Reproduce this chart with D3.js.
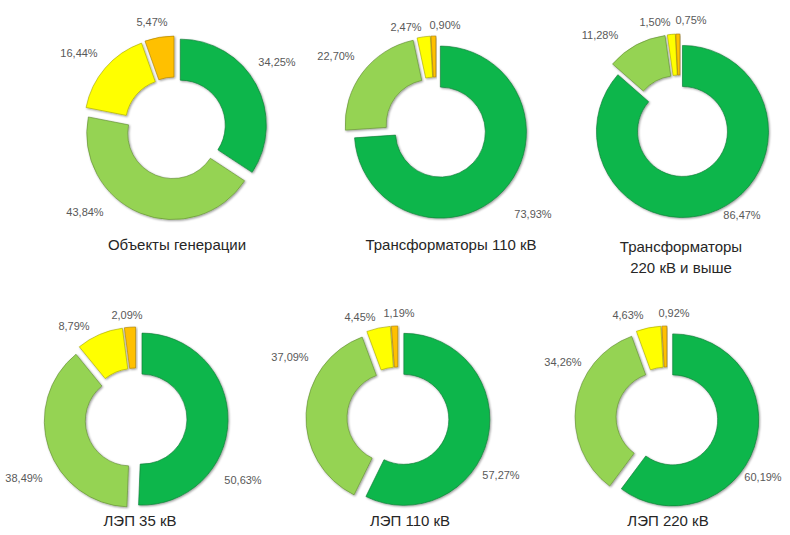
<!DOCTYPE html>
<html><head><meta charset="utf-8">
<script src="https://cdn.jsdelivr.net/npm/d3@7"></script>
<style>
html,body{margin:0;padding:0;background:#fff;}
svg{display:block;font-family:"Liberation Sans",Arial,sans-serif;}
</style></head>
<body>
<svg id="chart" width="790" height="535"></svg>
<script>
// ---- data ----
const titles = ["Объекты генерации", "Трансформаторы 110 кВ", "Трансформаторы|220 кВ и выше", "ЛЭП 35 кВ", "ЛЭП 110 кВ", "ЛЭП 220 кВ"];
const seriesColors = ["#0CB64B", "#95D352", "#FFFF00", "#FFC000"];
const genValues   = [34.25, 43.84, 16.44, 5.47];
const tr110Values = [73.93, 22.70, 2.47, 0.90];
const tr220Values = [86.47, 11.28, 1.50, 0.75];
const l35Values   = [50.63, 38.49, 8.79, 2.09];
const l110Values  = [57.27, 37.09, 4.45, 1.19];
const l220Values  = [60.19, 34.26, 4.63, 0.92];
const allValues = [genValues, tr110Values, tr220Values, l35Values, l110Values, l220Values];

// ---- layout ----
const centers = [[175,128],[436,128],[680,126],[136,419],[398,418],[667,418]];
const titlePos = [[177,245],[451,245],[681,247],[140,521],[410,521],[668,521]];
const labelOffsets = [
  [[102,-66],[-90,84],[-96,-75],[-23,-106]],
  [[97,86],[-100,-72],[-30,-101],[9,-103]],
  [[62,89],[-80,-91],[-25,-104],[11,-106]],
  [[107,61],[-112,59],[-62,-93],[-9,-104]],
  [[103,57],[-108,-61],[-38,-101],[1,-105]],
  [[96,59],[-104,-56],[-39,-103],[7,-105]]
];
const outerR = 86, innerR = 45, explode = 6;

const svg = d3.select("#chart");
const defs = svg.append("defs");
const f = defs.append("filter").attr("id","sh").attr("x","-20%").attr("y","-20%").attr("width","140%").attr("height","140%");
f.append("feDropShadow").attr("dx",1).attr("dy",1).attr("stdDeviation",0.8).attr("flood-color","#000").attr("flood-opacity",0.4);

const locale = d3.formatLocale({decimal:",", thousands:" ", grouping:[3], currency:["",""]});
const fmt = locale.format(".2f");

const pie = d3.pie().sort(null).value(d => d);
const arc = d3.arc().innerRadius(innerR).outerRadius(outerR);
const color = d3.scaleOrdinal().domain(d3.range(4)).range(seriesColors);

allValues.forEach((vals, ci) => {
  const [cx, cy] = centers[ci];
  const g = svg.append("g").attr("transform", `translate(${cx},${cy})`);
  const arcs = pie(vals);
  g.selectAll("path").data(arcs).join("path")
    .attr("d", arc)
    .attr("fill", (d,i) => color(i))
    .attr("stroke", (d,i) => d3.color(color(i)).darker(1.2))
    .attr("stroke-width", 0.6)
    .attr("filter", "url(#sh)")
    .attr("transform", d => {
      const a = (d.startAngle + d.endAngle) / 2;
      return `translate(${Math.sin(a)*explode},${-Math.cos(a)*explode})`;
    });
  g.selectAll("text.lbl").data(arcs).join("text").attr("class","lbl")
    .attr("x", (d,i) => labelOffsets[ci][i][0])
    .attr("y", (d,i) => labelOffsets[ci][i][1])
    .attr("dy", "0.35em")
    .attr("text-anchor", "middle")
    .attr("font-size", 11)
    .attr("fill", "#595959")
    .text(d => fmt(d.data) + "%");
  const lines = titles[ci].split("|");
  const t = svg.append("text")
    .attr("x", titlePos[ci][0]).attr("y", titlePos[ci][1])
    .attr("text-anchor","middle").attr("font-size", 15).attr("fill","#262626");
  lines.forEach((ln, li) => {
    t.append("tspan").attr("x", titlePos[ci][0]).attr("dy", li === 0 ? "0.35em" : "1.35em").text(ln);
  });
});
</script>
</body></html>
